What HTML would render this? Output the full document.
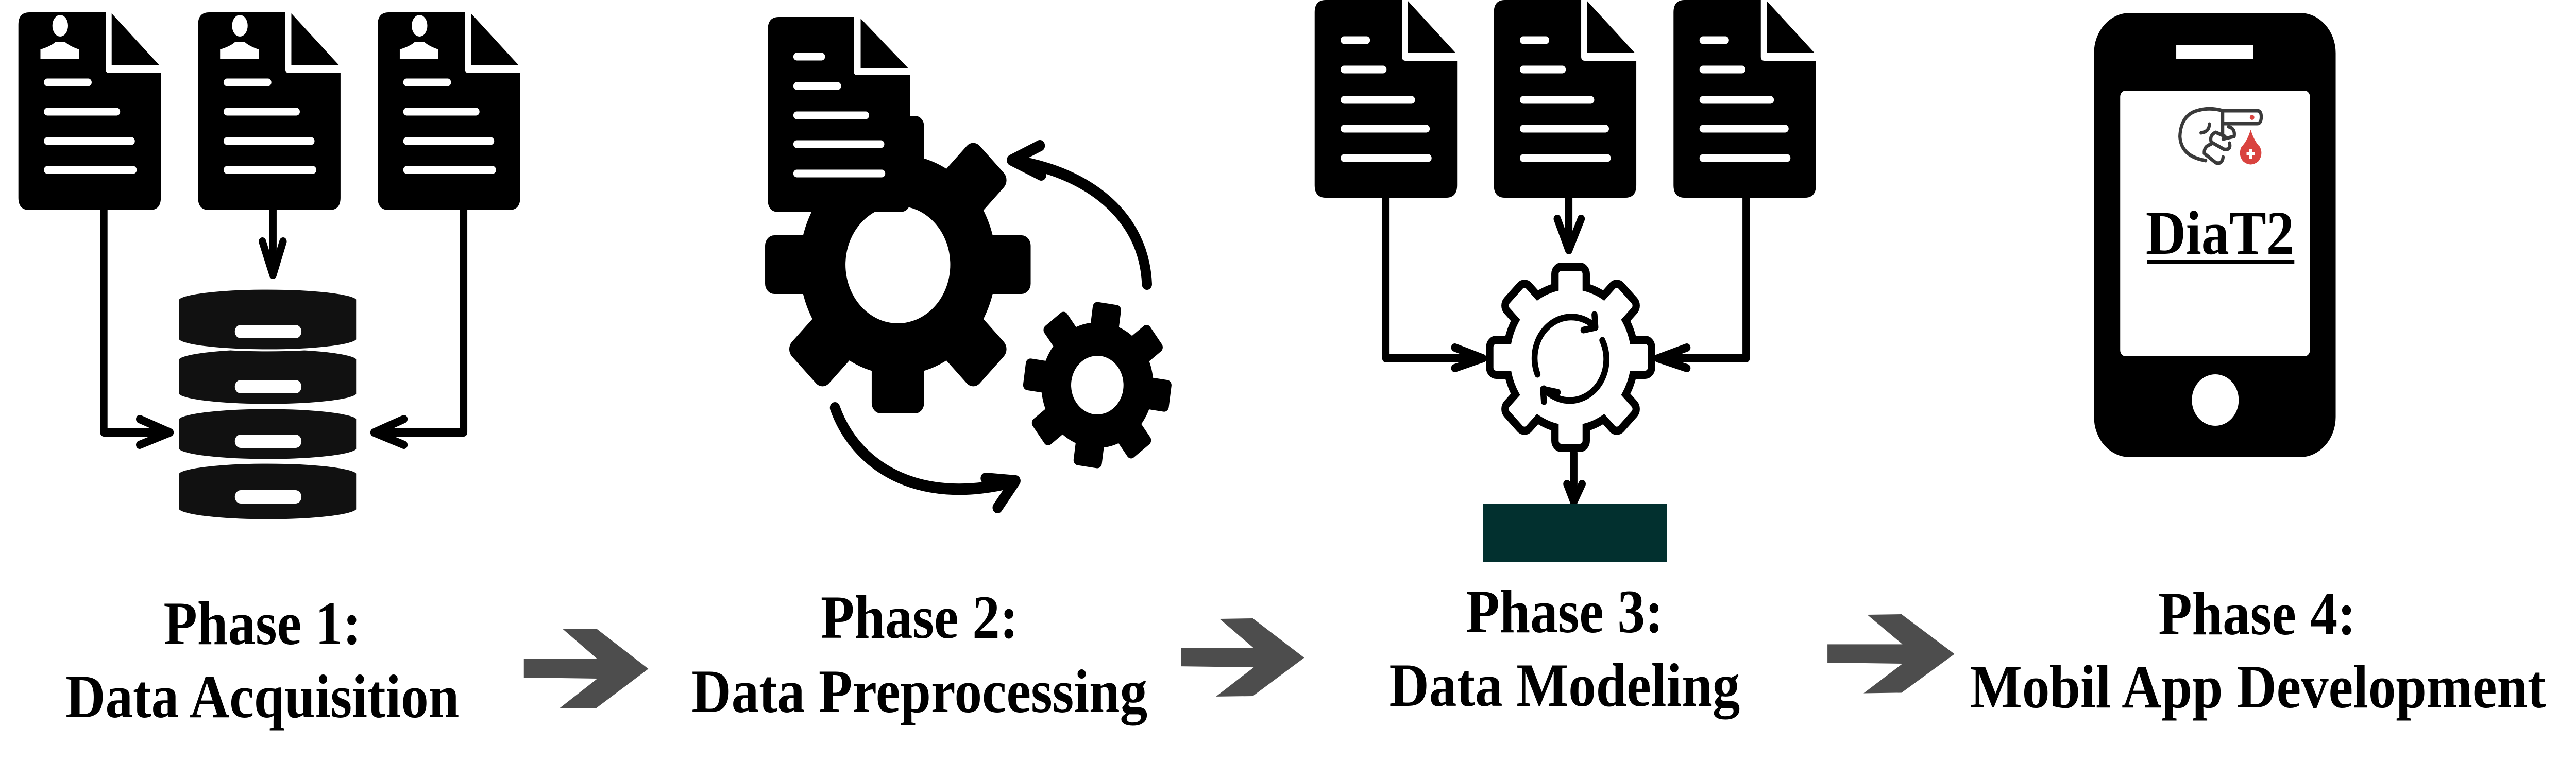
<!DOCTYPE html>
<html><head><meta charset="utf-8"><style>html,body{margin:0;padding:0;background:#fff;width:100%;height:100%;overflow:hidden}svg{display:block;position:absolute;left:0;top:0;width:100%;height:100%}</style></head>
<body>
<svg viewBox="0 0 5606 1480" preserveAspectRatio="none" xmlns="http://www.w3.org/2000/svg">
<defs>
<g id="doc">
<path d="M24,0 L190,0 L190,110 Q190,118 198,118 L310,118 L310,360 Q310,384 286,384 L24,384 Q0,384 0,360 L0,24 Q0,0 24,0 Z" fill="#000"/>
<path d="M203,2 L203,102 L306,102 Z" fill="#000"/>
</g>
<g id="arrow">
<polygon points="0,58 160,58 85,0 158,-1 271,77 158,153 77,154 160,96 0,94" fill="#4d4d4d"/>
</g>
</defs>
<rect width="5606" height="1480" fill="#fff"/>

<!-- PHASE 1 -->
<g transform="translate(40,24)"><use href="#doc"/>
<g fill="#fff"><ellipse cx="91" cy="26" rx="17" ry="21"/><path d="M48,90 L48,72 Q70,66 80,58 L102,58 Q112,66 132,72 L132,90 Z"/></g>
<g stroke="#fff" stroke-width="15" stroke-linecap="round"><line x1="63" y1="136" x2="152" y2="136"/><line x1="63" y1="193" x2="214" y2="193"/><line x1="63" y1="250" x2="246" y2="250"/><line x1="63" y1="306" x2="250" y2="306"/></g></g>
<g transform="translate(431,24)"><use href="#doc"/>
<g fill="#fff"><ellipse cx="91" cy="26" rx="17" ry="21"/><path d="M48,90 L48,72 Q70,66 80,58 L102,58 Q112,66 132,72 L132,90 Z"/></g>
<g stroke="#fff" stroke-width="15" stroke-linecap="round"><line x1="63" y1="136" x2="152" y2="136"/><line x1="63" y1="193" x2="214" y2="193"/><line x1="63" y1="250" x2="246" y2="250"/><line x1="63" y1="306" x2="250" y2="306"/></g></g>
<g transform="translate(822,24)"><use href="#doc"/>
<g fill="#fff"><ellipse cx="91" cy="26" rx="17" ry="21"/><path d="M48,90 L48,72 Q70,66 80,58 L102,58 Q112,66 132,72 L132,90 Z"/></g>
<g stroke="#fff" stroke-width="15" stroke-linecap="round"><line x1="63" y1="136" x2="152" y2="136"/><line x1="63" y1="193" x2="214" y2="193"/><line x1="63" y1="250" x2="246" y2="250"/><line x1="63" y1="306" x2="250" y2="306"/></g></g>

<g stroke="#000" stroke-width="16" stroke-linecap="round" stroke-linejoin="round" fill="none">
<path d="M226,408 L226,840 L366,840"/><path d="M304,814 L370,840 L304,864"/>
<path d="M594,408 L594,530"/><path d="M571,469 L594,534 L616,469"/>
<path d="M1009,408 L1009,840 L818,840"/><path d="M879,814 L814,840 L879,864"/>
</g>
<!-- database -->
<g fill="#111" stroke="#fff" stroke-width="4">
<path d="M388,919 A195,22 0 0 1 777,919 L777,990 A195,22 0 0 1 388,990 Z"/>
<path d="M388,813 A195,22 0 0 1 777,813 L777,873 A195,22 0 0 1 388,873 Z"/>
<path d="M388,697 A195,22 0 0 1 777,697 L777,766 A195,22 0 0 1 388,766 Z"/>
<path d="M388,581 A195,22 0 0 1 777,581 L777,660 A195,22 0 0 1 388,660 Z"/>
</g>
<g stroke="#fff" stroke-width="26" stroke-linecap="round">
<line x1="524" y1="644" x2="643" y2="644"/><line x1="524" y1="751" x2="643" y2="751"/><line x1="524" y1="857" x2="643" y2="857"/><line x1="524" y1="965" x2="643" y2="965"/>
</g>

<!-- PHASE 2 -->
<g transform="translate(1954,514)" fill="#000">
<circle r="214"/>
<g><rect x="-57" y="-289" width="114" height="120" rx="20"/>
<rect x="-57" y="-289" width="114" height="120" rx="20" transform="rotate(45)"/>
<rect x="-57" y="-289" width="114" height="120" rx="20" transform="rotate(90)"/>
<rect x="-57" y="-289" width="114" height="120" rx="20" transform="rotate(135)"/>
<rect x="-57" y="-289" width="114" height="120" rx="20" transform="rotate(180)"/>
<rect x="-57" y="-289" width="114" height="120" rx="20" transform="rotate(225)"/>
<rect x="-57" y="-289" width="114" height="120" rx="20" transform="rotate(270)"/>
<rect x="-57" y="-289" width="114" height="120" rx="20" transform="rotate(315)"/></g>
<circle r="114" fill="#fff"/>
</g>
<g transform="translate(1671,33)">
<path d="M24,0 L187,0 L187,105 Q187,113 195,113 L310,113 L310,355 Q310,379 286,379 L24,379 Q0,379 0,355 L0,24 Q0,0 24,0 Z" fill="#000"/>
<path d="M202,3 L202,99 L305,99 Z" fill="#000"/>
<g stroke="#fff" stroke-width="15" stroke-linecap="round"><line x1="63" y1="77" x2="117" y2="77"/><line x1="63" y1="134" x2="152" y2="134"/><line x1="63" y1="191" x2="213" y2="191"/><line x1="63" y1="247" x2="246" y2="247"/><line x1="63" y1="304" x2="248" y2="304"/></g>
</g>
<g transform="translate(2388,748) rotate(8)" fill="#000">
<circle r="122"/>
<rect x="-31" y="-160" width="62" height="60" rx="10"/>
<rect x="-31" y="-160" width="62" height="60" rx="10" transform="rotate(45)"/>
<rect x="-31" y="-160" width="62" height="60" rx="10" transform="rotate(90)"/>
<rect x="-31" y="-160" width="62" height="60" rx="10" transform="rotate(135)"/>
<rect x="-31" y="-160" width="62" height="60" rx="10" transform="rotate(180)"/>
<rect x="-31" y="-160" width="62" height="60" rx="10" transform="rotate(225)"/>
<rect x="-31" y="-160" width="62" height="60" rx="10" transform="rotate(270)"/>
<rect x="-31" y="-160" width="62" height="60" rx="10" transform="rotate(315)"/>
<circle r="57" fill="#fff"/>
</g>
<g stroke="#000" stroke-width="22" stroke-linecap="round" stroke-linejoin="round" fill="none">
<path d="M2496,552 C2490,420 2370,335 2206,312"/><path d="M2263,283 L2202,311 L2266,340"/>
<path d="M1817,792 C1860,900 1990,985 2206,936"/><path d="M2145,929 L2210,934 L2171,986"/>
</g>

<!-- PHASE 3 -->
<g transform="translate(2861,0)"><use href="#doc"/>
<g stroke="#fff" stroke-width="15" stroke-linecap="round"><line x1="64" y1="78" x2="113" y2="78"/><line x1="64" y1="135" x2="149" y2="135"/><line x1="64" y1="194" x2="211" y2="194"/><line x1="64" y1="250" x2="243" y2="250"/><line x1="64" y1="307" x2="247" y2="307"/></g></g>
<g transform="translate(3251,0)"><use href="#doc"/>
<g stroke="#fff" stroke-width="15" stroke-linecap="round"><line x1="64" y1="78" x2="113" y2="78"/><line x1="64" y1="135" x2="149" y2="135"/><line x1="64" y1="194" x2="211" y2="194"/><line x1="64" y1="250" x2="243" y2="250"/><line x1="64" y1="307" x2="247" y2="307"/></g></g>
<g transform="translate(3642,0)"><use href="#doc"/>
<g stroke="#fff" stroke-width="15" stroke-linecap="round"><line x1="64" y1="78" x2="113" y2="78"/><line x1="64" y1="135" x2="149" y2="135"/><line x1="64" y1="194" x2="211" y2="194"/><line x1="64" y1="250" x2="243" y2="250"/><line x1="64" y1="307" x2="247" y2="307"/></g></g>
<g stroke="#000" stroke-width="16" stroke-linecap="round" stroke-linejoin="round" fill="none">
<path d="M3016,382 L3016,696 L3222,696"/><path d="M3166,675 L3227,696 L3166,715"/>
<path d="M3414,382 L3414,482"/><path d="M3389,425 L3414,486 L3441,425"/>
<path d="M3800,382 L3800,696 L3612,696"/><path d="M3671,675 L3608,696 L3671,715"/>
<path d="M3425,880 L3425,972"/><path d="M3410,940 L3425,975 L3443,940"/>
</g>
<g transform="translate(3418,694)">
<g fill="#000" stroke="#000" stroke-width="32" stroke-linejoin="round">
<circle r="132"/>
<rect x="-26" y="-168" width="52" height="60" rx="6"/>
<rect x="-26" y="-168" width="52" height="60" rx="6" transform="rotate(45)"/>
<rect x="-26" y="-168" width="52" height="60" rx="6" transform="rotate(90)"/>
<rect x="-26" y="-168" width="52" height="60" rx="6" transform="rotate(135)"/>
<rect x="-26" y="-168" width="52" height="60" rx="6" transform="rotate(180)"/>
<rect x="-26" y="-168" width="52" height="60" rx="6" transform="rotate(225)"/>
<rect x="-26" y="-168" width="52" height="60" rx="6" transform="rotate(270)"/>
<rect x="-26" y="-168" width="52" height="60" rx="6" transform="rotate(315)"/>
</g>
<g fill="#fff">
<circle r="132"/>
<rect x="-26" y="-168" width="52" height="60" rx="6"/>
<rect x="-26" y="-168" width="52" height="60" rx="6" transform="rotate(45)"/>
<rect x="-26" y="-168" width="52" height="60" rx="6" transform="rotate(90)"/>
<rect x="-26" y="-168" width="52" height="60" rx="6" transform="rotate(135)"/>
<rect x="-26" y="-168" width="52" height="60" rx="6" transform="rotate(180)"/>
<rect x="-26" y="-168" width="52" height="60" rx="6" transform="rotate(225)"/>
<rect x="-26" y="-168" width="52" height="60" rx="6" transform="rotate(270)"/>
<rect x="-26" y="-168" width="52" height="60" rx="6" transform="rotate(315)"/>
</g>
</g>
<g stroke="#000" stroke-width="13" stroke-linecap="round" stroke-linejoin="round" fill="none">
<path d="M3346,727 A80,80 0 0 1 3468,632"/><path d="M3446,641 L3472,636 L3470,611"/>
<path d="M3487,661 A80,80 0 0 1 3360,755"/><path d="M3390,762 L3358,756 L3360,780"/>
</g>
<rect x="3227" y="979" width="401" height="112" fill="#02302f"/>

<!-- PHASE 4 -->
<rect x="4557" y="25" width="526" height="863" rx="78" fill="#000"/>
<rect x="4736" y="87" width="168" height="28" fill="#fff"/>
<rect x="4614" y="176" width="413" height="516" rx="12" fill="#fff"/>
<ellipse cx="4821" cy="777" rx="51" ry="50" fill="#fff"/>
<g fill="none" stroke="#3a3a3a" stroke-width="7" stroke-linecap="round" stroke-linejoin="round">
<path d="M4837,215 L4912,215 Q4921,215 4921,227 Q4921,240 4912,240 L4840,240"/>
<path d="M4837,215 Q4810,208 4785,214 Q4746,222 4744,265 Q4746,300 4790,310 L4800,312"/>
<path d="M4837,215 L4837,262"/>
<path d="M4808,241 Q4808,256 4790,258"/>
<path d="M4850,246 Q4865,250 4862,265 L4838,270"/>
<path d="M4842,265 L4822,257 Q4808,262 4812,276 L4840,290 Q4856,292 4852,278"/>
<path d="M4812,280 Q4796,284 4797,298 L4822,316 Q4836,320 4838,305"/>
</g>
<circle cx="4901" cy="228" r="5" fill="#d9433f"/>
<path d="M4898,252 Q4906,275 4918,285 Q4926,300 4915,313 Q4898,326 4881,313 Q4870,300 4878,285 Q4890,275 4898,252 Z" fill="#d9433f"/>
<path d="M4898,290 L4898,308 M4889,299 L4907,299" stroke="#fff" stroke-width="6"/>
<text x="4831" y="493" font-family="Liberation Serif, serif" font-weight="bold" font-size="121" text-anchor="middle">DiaT2</text>
<rect x="4673" y="505" width="320" height="8" fill="#000"/>

<!-- arrows -->
<use href="#arrow" transform="translate(1140,1222)"/>
<use href="#arrow" transform="translate(2570,1202) scale(0.99,0.98)"/>
<use href="#arrow" transform="translate(3977,1194) scale(1.02,0.99)"/>

<!-- labels -->
<g font-family="Liberation Serif, serif" font-weight="bold" font-size="120" text-anchor="middle" fill="#000">
<text x="571" y="1251">Phase 1:</text><text x="571" y="1393">Data Acquisition</text>
<text x="2001" y="1239">Phase 2:</text><text x="2001" y="1383">Data Preprocessing</text>
<text x="3405" y="1228">Phase 3:</text><text x="3405" y="1371">Data Modeling</text>
<text x="4912" y="1232">Phase 4:</text><text x="4914" y="1374">Mobil App Development</text>
</g>
</svg>
</body></html>
